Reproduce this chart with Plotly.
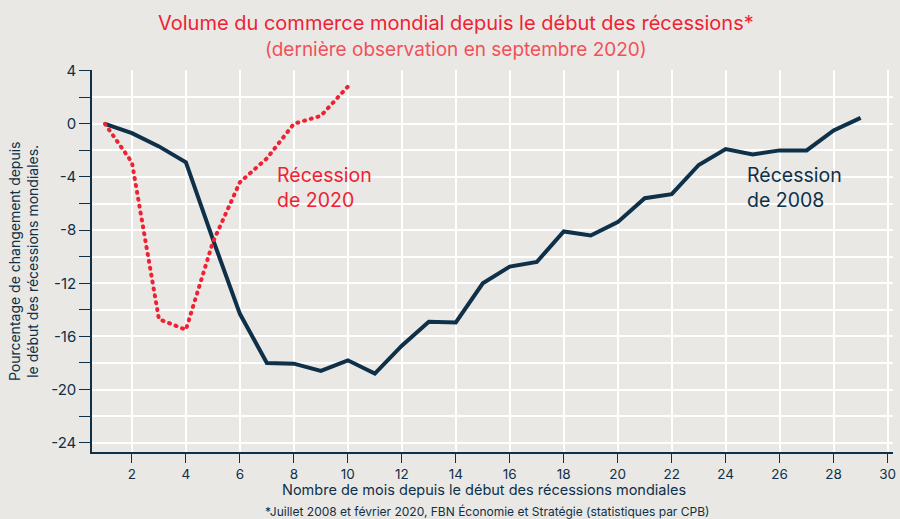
import plotly.graph_objects as go

months_2008 = list(range(1, 30))
values_2008 = [0, -0.7, -1.7, -2.9, -8.7, -14.3, -18.0, -18.05, -18.6, -17.8, -18.8,
               -16.7, -14.9, -14.95, -12.0, -10.75, -10.4, -8.1, -8.4, -7.4, -5.6,
               -5.3, -3.1, -1.9, -2.3, -2.0, -2.0, -0.5, 0.45]
months_2020 = list(range(1, 11))
values_2020 = [0, -2.9, -14.7, -15.5, -8.9, -4.4, -2.6, 0.0, 0.6, 2.8]

x_ticks = list(range(2, 31, 2))
y_ticks = list(range(-24, 5, 2))
y_labels = [str(v) if v % 4 == 0 else "" for v in y_ticks]

NAVY = "#0E3049"
RED = "#EE2233"
BG = "#EAE8E4"
FONT = "Inter"

fig = go.Figure()
fig.add_trace(go.Scatter(x=months_2008, y=values_2008, mode="lines",
                         line=dict(color=NAVY, width=4), showlegend=False))
fig.add_trace(go.Scatter(x=months_2020, y=values_2020, mode="lines",
                         line=dict(color=RED, width=4, dash="1px,6px"), showlegend=False))

fig.add_shape(type="line", x0=0.52, x1=30.2, y0=0, y1=0, xref="x", yref="y",
              line=dict(color=NAVY, width=1.3), layer="below")

fig.add_annotation(x=7.3, y=-4.1, xref="x", yref="y", text="Récession<br>de 2020",
                   showarrow=False, xanchor="left", yanchor="middle", align="left", yshift=-9,
                   font=dict(family=FONT, size=19.5, color=RED))
fig.add_annotation(x=24.7, y=-4.1, xref="x", yref="y", text="Récession<br>de 2008",
                   showarrow=False, xanchor="left", yanchor="middle", align="left", yshift=-9,
                   font=dict(family=FONT, size=19.5, color=NAVY))

fig.add_annotation(x=0.455, y=1.0, xref="paper", yref="paper", yanchor="middle",
                   text="Volume du commerce mondial depuis le début des récessions*",
                   showarrow=False, yshift=47, font=dict(family=FONT, size=20, color=RED))
fig.add_annotation(x=0.455, y=1.0, xref="paper", yref="paper", yanchor="middle",
                   text="(dernière observation en septembre 2020)",
                   showarrow=False, yshift=21, font=dict(family=FONT, size=19, color="#F2505A"))
fig.add_annotation(x=0.49, y=0, xref="paper", yref="paper", yanchor="middle",
                   text="Nombre de mois depuis le début des récessions mondiales",
                   showarrow=False, yshift=-37, font=dict(family=FONT, size=14.5, color=NAVY))
fig.add_annotation(x=0.493, y=0, xref="paper", yref="paper", yanchor="middle",
                   text="*Juillet 2008 et février 2020, FBN Économie et Stratégie (statistiques par CPB)",
                   showarrow=False, yshift=-59, font=dict(family=FONT, size=12, color=NAVY))
fig.add_annotation(x=-0.086, y=0.5, xref="paper", yref="paper", xanchor="center", yanchor="middle",
                   text="Pourcentage de changement depuis<br>le début des récessions mondiales.",
                   textangle=-90, showarrow=False,
                   font=dict(family=FONT, size=14, color=NAVY))

fig.update_layout(
    width=900, height=519,
    paper_bgcolor=BG, plot_bgcolor=BG,
    margin=dict(l=92, r=7, t=70, b=67, autoexpand=False),
    font=dict(family=FONT, color=NAVY),
    xaxis=dict(range=[0.52, 30.2], tickvals=x_ticks, ticktext=[str(v) for v in x_ticks],
               showgrid=True, gridcolor="white", gridwidth=2, automargin=False,
               showline=True, linecolor=NAVY, linewidth=1.5,
               ticks="outside", ticklen=9, tickcolor=NAVY, tickwidth=1.3,
               tickfont=dict(family=FONT, size=13.5, color=NAVY), zeroline=False),
    yaxis=dict(range=[-24.7, 4.05], tickvals=y_ticks, ticktext=y_labels,
               showgrid=True, gridcolor="white", gridwidth=2, automargin=False,
               showline=True, linecolor=NAVY, linewidth=1.5,
               ticks="outside", ticklen=11, tickcolor=NAVY, tickwidth=1.3,
               tickfont=dict(family=FONT, size=15, color=NAVY), zeroline=False),
)

post = (
    "document.body.style.margin='0';"
    "document.body.style.background='%s';"
    "var tr=document.querySelectorAll('.scatterlayer .trace');"
    "if(tr.length>1){tr[1].querySelectorAll('path.js-line').forEach(function(p){p.style.strokeLinecap='round';});}"
) % BG

fig.write_html("out.html", config={"displayModeBar": False}, post_script=post)
